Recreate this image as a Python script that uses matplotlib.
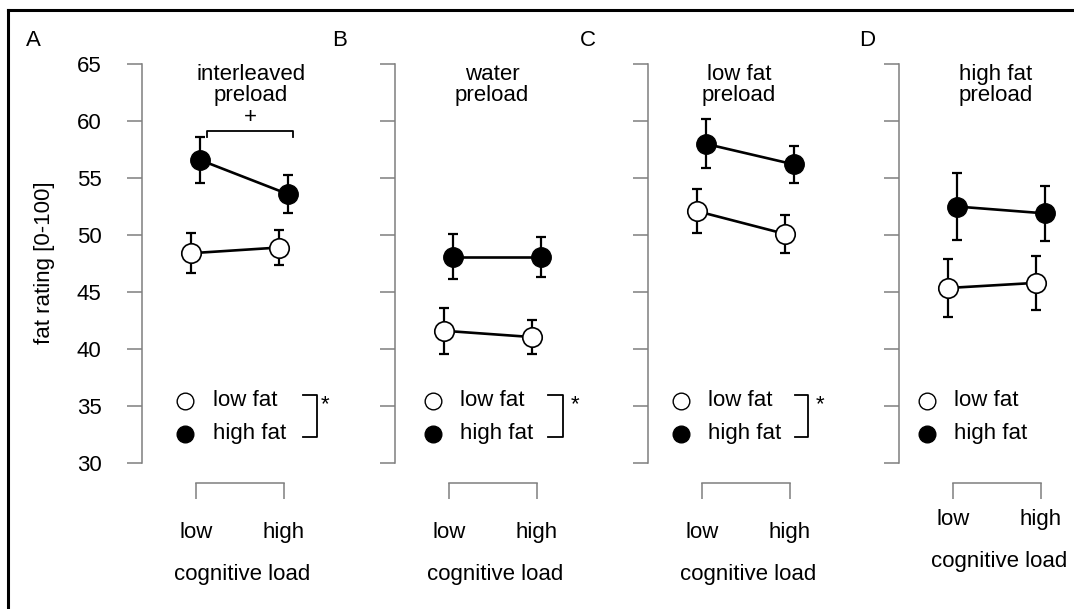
import numpy as np
import matplotlib
matplotlib.use("Agg")
import matplotlib.pyplot as plt
from matplotlib.lines import Line2D

plt.rcParams['font.family'] = ['Liberation Sans', 'DejaVu Sans']

# data (mean and SE)
loads = ['low', 'high']
panel_letters = ['A', 'B', 'C', 'D']
titles = ['interleaved\npreload', 'water\npreload', 'low fat\npreload', 'high fat\npreload']
low_fat_mean = [[48.4, 48.9], [41.6, 41.05], [52.1, 50.1], [45.35, 45.8]]
low_fat_se = [[1.75, 1.5], [2.0, 1.5], [1.95, 1.65], [2.55, 2.35]]
high_fat_mean = [[56.6, 53.6], [48.1, 48.1], [58.0, 56.2], [52.5, 51.9]]
high_fat_se = [[2.0, 1.65], [1.95, 1.75], [2.15, 1.6], [2.9, 2.4]]
yticks = [30, 35, 40, 45, 50, 55, 60, 65]

W, H = 1074, 609
fig = plt.figure(figsize=(W / 100, H / 100), dpi=100)

# outer frame (only top and left edges are visible)
fig.add_artist(Line2D([8 / W, 8 / W], [0, 1 - 10 / H], transform=fig.transFigure, color='black', lw=2.2))
fig.add_artist(Line2D([8 / W, 1], [1 - 10 / H, 1 - 10 / H], transform=fig.transFigure, color='black', lw=2.2))

spine_px = [142, 395, 648, 899]
letter_px = [33, 340, 588, 867]
px_per_unit = 88.0
x0 = -54 / px_per_unit
ax_w = 200
title_x = [0.625, 0.49, 0.42, 0.49]
leg_circ_x = [-0.125, -0.18, -0.24, -0.295]
leg_text_x = [0.19, 0.125, 0.07, 0.01]
star_br_x = [(1.216, 1.375, 1.47), (1.125, 1.295, 1.43), (1.057, 1.205, 1.34), None]
grey = '#7f7f7f'
fs = 16

for k in range(4):
    ax = fig.add_axes([spine_px[k] / W, 1 - 463 / H, ax_w / W, (463 - 64) / H])
    ax.set_xlim(x0, x0 + ax_w / px_per_unit)
    ax.set_ylim(30, 65)
    for s in ['top', 'right']:
        ax.spines[s].set_visible(False)
    ax.spines['left'].set_color(grey)
    ax.spines['left'].set_linewidth(1.1)
    ax.spines['left'].set_bounds(30, 65)
    ax.spines['bottom'].set_color(grey)
    ax.spines['bottom'].set_linewidth(1.1)
    ax.spines['bottom'].set_bounds(0, 1)
    ax.spines['bottom'].set_position(('outward', 14.5))
    ax.set_yticks(yticks)
    ax.tick_params(axis='y', length=11, width=1.1, color=grey, pad=18, labelsize=fs)
    if k > 0:
        ax.set_yticklabels([])
    ax.set_xticks([0, 1])
    ax.set_xticklabels(loads)
    xpad = 16.5 if k < 3 else 7
    ax.tick_params(axis='x', length=11.5, width=1.1, color=grey, pad=xpad, labelsize=fs)
    ax.set_xlabel('cognitive load', fontsize=fs, labelpad=15)

    xs = np.arange(len(loads))
    # low fat (open) and high fat (filled)
    ax.errorbar(xs - 0.06, low_fat_mean[k], yerr=low_fat_se[k], fmt='none', ecolor='black',
                elinewidth=1.6, capsize=3.5, capthick=1.6, clip_on=False, zorder=2)
    ax.plot(xs - 0.06, low_fat_mean[k], '-o', color='black', lw=1.9, ms=14, mfc='white',
            mec='black', mew=1.2, clip_on=False, zorder=3)
    ax.errorbar(xs + 0.04, high_fat_mean[k], yerr=high_fat_se[k], fmt='none', ecolor='black',
                elinewidth=1.6, capsize=3.5, capthick=1.6, clip_on=False, zorder=2)
    ax.plot(xs + 0.04, high_fat_mean[k], '-o', color='black', lw=1.9, ms=14, mfc='black',
            mec='black', clip_on=False, zorder=3)

    # legend
    ax.plot([leg_circ_x[k]], [35.45], 'o', ms=12, mfc='white', mec='black', mew=1.0, clip_on=False)
    ax.plot([leg_circ_x[k]], [32.55], 'o', ms=12, mfc='black', mec='black', clip_on=False)
    ax.text(leg_text_x[k], 35.45, 'low fat', fontsize=fs, va='center', ha='left')
    ax.text(leg_text_x[k], 32.55, 'high fat', fontsize=fs, va='center', ha='left')
    if star_br_x[k] is not None:
        bx0, bx1, sx = star_br_x[k]
        ax.plot([bx0, bx1, bx1, bx0], [35.95, 35.95, 32.3, 32.3], color='black', lw=1.3, clip_on=False)
        ax.text(sx, 35.1, '*', fontsize=fs, ha='center', va='center')

    ax.text(title_x[k], 63.15, titles[k], fontsize=fs, ha='center', va='center', linespacing=0.95)
    fig.text(letter_px[k] / W, 1 - 40 / H, panel_letters[k], fontsize=fs, ha='center', va='center')

    if k == 0:
        # interaction trend bracket
        ax.plot([0.125, 0.125, 1.10, 1.10], [58.6, 59.1, 59.1, 58.6], color='black', lw=1.3)
        ax.text(0.62, 60.3, '+', fontsize=fs, ha='center', va='center')

fig.text(45 / W, 1 - 263 / H, 'fat rating [0-100]', fontsize=fs, rotation=90, ha='center', va='center')

fig.savefig('out.png', dpi=100)
